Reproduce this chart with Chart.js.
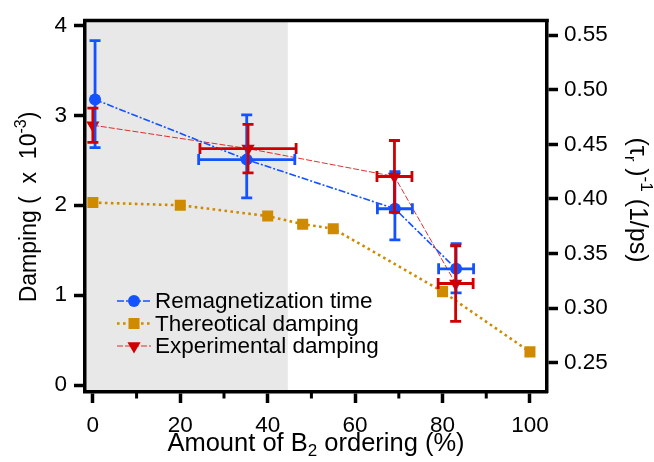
<!DOCTYPE html>
<html>
<head>
<meta charset="utf-8">
<style>
  html, body { margin: 0; padding: 0; background: #fff; }
  #wrap { width: 654px; height: 462px; }
</style>
<script src="https://cdn.jsdelivr.net/npm/chart.js@4.4.1/dist/chart.umd.min.js"></script>
</head>
<body>
<div id="wrap"><canvas id="chart" width="654" height="462"></canvas></div>
<script>
// Remagnetization time, read on the right axis (1/ps)
var remagX = [0.5, 35.2, 69.1, 83.1];
var remagY = [0.491, 0.436, 0.391, 0.336];
var remagYLow = [0.447, 0.401, 0.3625, 0.314];
var remagYHigh = [0.545, 0.477, 0.425, 0.359];
var remagXErr = [0, 11, 4, 4];

// Theoretical damping (x 10^-3)
var theoX = [0, 20, 40, 48, 55, 80, 100];
var theoY = [2.03, 2.0, 1.88, 1.79, 1.74, 1.04, 0.37];

// Experimental damping (x 10^-3)
var expX = [0, 35.5, 69, 83];
var expY = [2.89, 2.63, 2.32, 1.13];
var expYErr = [0.19, 0.27, 0.40, 0.42];
var expXErr = [0, 11, 4, 4];

var xTicks = [0, 20, 40, 60, 80, 100];
var xMinorTicks = [10, 30, 50, 70, 90];
var leftTicks = [0, 1, 2, 3, 4];
var rightTicks = [0.25, 0.30, 0.35, 0.40, 0.45, 0.50, 0.55];
var shadeUpTo = 44.6; // grey band, in % of B2 ordering

var FONT = '"Liberation Sans", Arial, Helvetica, sans-serif';
var BLUE = '#1452ff';
var ORANGE = '#cf8a00';
var RED = '#d10000';

function toPoints(xs, ys) {
    return xs.map(function(x, i) { return { x: x, y: ys[i] }; });
}

// error bars as {x, y, xLo, xHi, yLo, yHi}
var remagErr = remagX.map(function(x, i) {
    return { x: x, y: remagY[i], xLo: x - remagXErr[i], xHi: x + remagXErr[i], yLo: remagYLow[i], yHi: remagYHigh[i] };
});
var expErr = expX.map(function(x, i) {
    return { x: x, y: expY[i], xLo: x - expXErr[i], xHi: x + expXErr[i], yLo: expY[i] - expYErr[i], yHi: expY[i] + expYErr[i] };
});

function fixedTicks(list) {
    return function(axis) {
        axis.ticks = list.map(function(v) { return { value: v }; });
    };
}

// draws text with sub/superscript pieces, centred on (cx, cy)
function drawRich(ctx, parts, cx, cy, size) {
    var small = Math.round(size * 0.68);
    var total = 0;
    parts.forEach(function(p) {
        ctx.font = (p.k ? small : size) + 'px ' + FONT;
        p.w = ctx.measureText(p.t).width;
        total += p.w;
    });
    var x = cx - total / 2;
    ctx.textAlign = 'left';
    ctx.textBaseline = 'middle';
    ctx.fillStyle = '#000';
    parts.forEach(function(p) {
        ctx.font = (p.k ? small : size) + 'px ' + FONT;
        var dy = 0;
        if (p.k == 'sup') dy = -size * 0.36;
        if (p.k == 'sub') dy = size * 0.28;
        ctx.fillText(p.t, x, cy + dy);
        x += p.w;
    });
}

var shadePlugin = {
    id: 'shade',
    beforeDraw: function(chart) {
        var a = chart.chartArea, ctx = chart.ctx;
        var xr = chart.scales.x.getPixelForValue(shadeUpTo);
        ctx.save();
        ctx.fillStyle = '#e8e8e8';
        ctx.fillRect(a.left, a.top, xr - a.left, a.bottom - a.top);
        ctx.restore();
    }
};

var errorBarPlugin = {
    id: 'errorBars',
    afterDatasetsDraw: function(chart) {
        var ctx = chart.ctx, xs = chart.scales.x;
        chart.data.datasets.forEach(function(ds) {
            if (!ds.errorBars) return;
            var ys = chart.scales[ds.yAxisID];
            ctx.save();
            ctx.strokeStyle = ds.backgroundColor;
            ctx.lineWidth = 2.8;
            ds.errorBars.forEach(function(e) {
                var px = xs.getPixelForValue(e.x), py = ys.getPixelForValue(e.y);
                var cap = 5.5;
                if (e.yHi != e.yLo) {
                    var t = ys.getPixelForValue(e.yHi), b = ys.getPixelForValue(e.yLo);
                    ctx.beginPath();
                    ctx.moveTo(px, t); ctx.lineTo(px, b);
                    ctx.moveTo(px - cap, t); ctx.lineTo(px + cap, t);
                    ctx.moveTo(px - cap, b); ctx.lineTo(px + cap, b);
                    ctx.stroke();
                }
                if (e.xHi != e.xLo) {
                    var l = xs.getPixelForValue(e.xLo), r = xs.getPixelForValue(e.xHi);
                    ctx.beginPath();
                    ctx.moveTo(l, py); ctx.lineTo(r, py);
                    ctx.moveTo(l, py - cap); ctx.lineTo(l, py + cap);
                    ctx.moveTo(r, py - cap); ctx.lineTo(r, py + cap);
                    ctx.stroke();
                }
            });
            ctx.restore();
        });
    }
};

var framePlugin = {
    id: 'frame',
    afterDraw: function(chart) {
        var a = chart.chartArea, ctx = chart.ctx, xs = chart.scales.x;
        ctx.save();
        // top edge of the box
        ctx.strokeStyle = '#000';
        ctx.lineWidth = 3.5;
        ctx.beginPath();
        ctx.moveTo(a.left - 1.75, a.top);
        ctx.lineTo(a.right + 1.75, a.top);
        ctx.stroke();
        // minor ticks on the x axis
        ctx.lineWidth = 3;
        xMinorTicks.forEach(function(v) {
            var px = xs.getPixelForValue(v);
            ctx.beginPath();
            ctx.moveTo(px, a.bottom);
            ctx.lineTo(px, a.bottom + 6.5);
            ctx.stroke();
        });

        // axis titles
        drawRich(ctx, [{ t: 'Amount of B' }, { t: '2', k: 'sub' }, { t: ' ordering (%)' }],
            (a.left + a.right) / 2, 444, 25.5);

        ctx.save();
        ctx.translate(30, 207);
        ctx.rotate(-Math.PI / 2);
        drawRich(ctx, [{ t: 'Damping (  x  10' }, { t: '-3', k: 'sup' }, { t: ')' }], 0, 0, 23);
        ctx.restore();

        ctx.save();
        ctx.translate(637, 200);
        ctx.rotate(Math.PI / 2);
        drawRich(ctx, [{ t: '(\u03c4' }, { t: 'r', k: 'sub' }, { t: ' )' }, { t: '-1', k: 'sup' }, { t: ' (1/ps)' }], 0, 0, 25);
        ctx.restore();

        // legend: line + marker + label
        var lx = a.left + 32, ly = a.bottom - 91;
        chart.data.datasets.forEach(function(ds, i) {
            var y = ly + i * 22.5;
            ctx.save();
            ctx.strokeStyle = ds.borderColor;
            ctx.lineWidth = ds.borderWidth;
            ctx.setLineDash(ds.borderDash || []);
            ctx.beginPath();
            ctx.moveTo(lx, y);
            ctx.lineTo(lx + 34, y);
            ctx.stroke();
            ctx.restore();
            ctx.save();
            ctx.fillStyle = ds.backgroundColor;
            Chart.helpers.drawPoint(ctx, {
                pointStyle: ds.pointStyle,
                rotation: ds.pointRotation || 0,
                radius: ds.pointRadius,
                borderWidth: 0
            }, lx + 17, y);
            ctx.restore();
            ctx.fillStyle = '#000';
            ctx.font = '22.5px ' + FONT;
            ctx.textAlign = 'left';
            ctx.textBaseline = 'middle';
            ctx.fillText(ds.label, lx + 38, y + 1);
        });
        ctx.restore();
    }
};

var config = {
    type: 'scatter',
    data: {
        datasets: [{
            label: 'Remagnetization time',
            data: toPoints(remagX, remagY),
            yAxisID: 'yR',
            showLine: true,
            borderColor: BLUE,
            backgroundColor: BLUE,
            borderWidth: 1.6,
            borderDash: [7, 2, 2, 2],
            pointStyle: 'circle',
            pointRadius: 6,
            pointBorderWidth: 0,
            errorBars: remagErr
        }, {
            label: 'Thereotical damping',
            data: toPoints(theoX, theoY),
            yAxisID: 'y',
            showLine: true,
            borderColor: ORANGE,
            backgroundColor: ORANGE,
            borderWidth: 2.6,
            borderDash: [2.6, 3.4],
            pointStyle: 'rect',
            pointRadius: 7.8,
            pointBorderWidth: 0
        }, {
            label: 'Experimental damping',
            data: toPoints(expX, expY),
            yAxisID: 'y',
            showLine: true,
            borderColor: 'rgba(215,0,0,0.8)',
            backgroundColor: RED,
            borderWidth: 1,
            borderDash: [6, 2],
            pointStyle: 'triangle',
            pointRotation: 180,
            pointRadius: 7.6,
            pointBorderWidth: 0,
            errorBars: expErr
        }]
    },
    options: {
        responsive: false,
        animation: false,
        events: [],
        layout: { padding: { top: 12, right: 0, left: 0, bottom: 0 } },
        plugins: {
            legend: { display: false },
            tooltip: { enabled: false }
        },
        scales: {
            x: {
                type: 'linear',
                min: -1.8,
                max: 103.9,
                afterBuildTicks: fixedTicks(xTicks),
                afterFit: function(s) { s.height = 70; },
                grid: { drawOnChartArea: false, tickLength: 11, tickWidth: 3.5, tickColor: '#000' },
                border: { width: 3.5, color: '#000' },
                ticks: { color: '#000', font: { family: FONT, size: 22.5 }, padding: 9, maxRotation: 0 }
            },
            y: {
                type: 'linear',
                position: 'left',
                min: -0.076,
                max: 4.054,
                afterBuildTicks: fixedTicks(leftTicks),
                afterFit: function(s) { s.width = 85; },
                grid: { drawOnChartArea: false, tickLength: 11, tickWidth: 3.5, tickColor: '#000' },
                border: { width: 3.5, color: '#000' },
                ticks: { color: '#000', font: { family: FONT, size: 22.5 }, padding: 7 }
            },
            yR: {
                type: 'linear',
                position: 'right',
                min: 0.2232,
                max: 0.5634,
                afterBuildTicks: fixedTicks(rightTicks),
                afterFit: function(s) { s.width = 107; },
                grid: { drawOnChartArea: false, tickLength: 11, tickWidth: 3.5, tickColor: '#000' },
                border: { width: 3.5, color: '#000' },
                ticks: {
                    color: '#000', font: { family: FONT, size: 22.5 }, padding: 6,
                    callback: function(v) { return v.toFixed(2); }
                }
            }
        }
    },
    plugins: [shadePlugin, errorBarPlugin, framePlugin]
};

var chart = new Chart(document.getElementById('chart').getContext('2d'), config);
</script>
</body>
</html>
